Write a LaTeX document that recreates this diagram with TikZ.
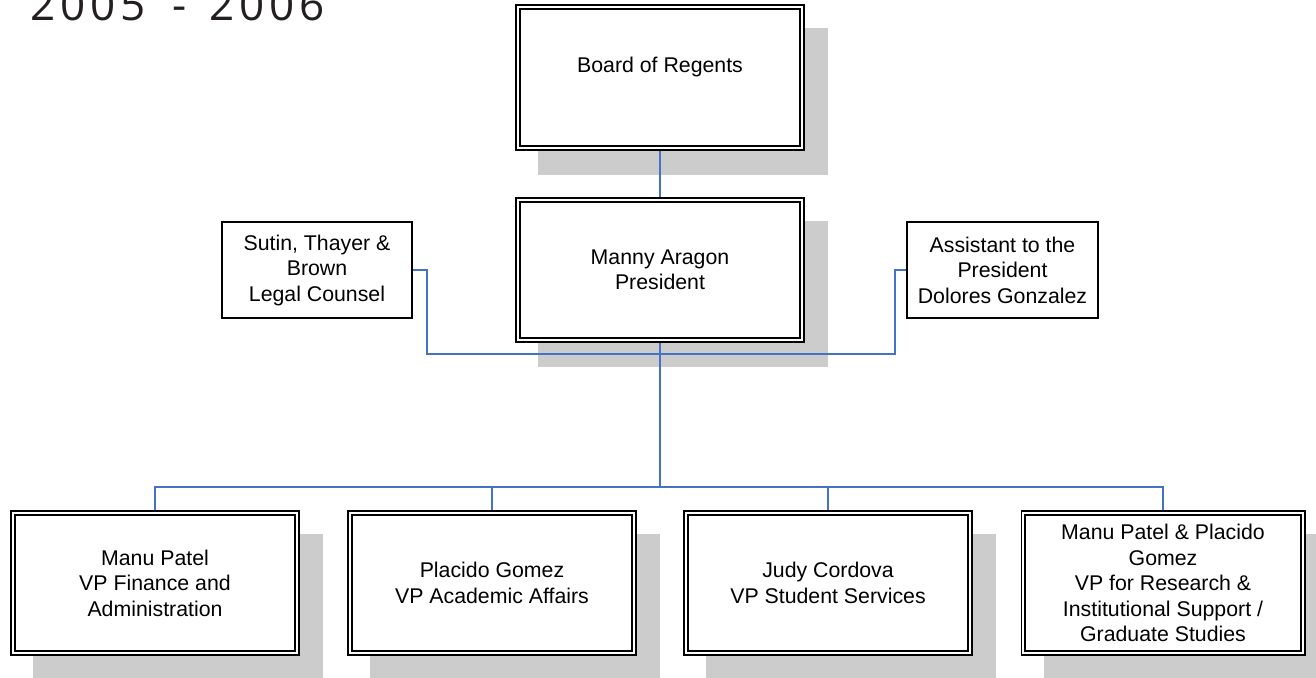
\documentclass[tikz,border=0pt]{standalone}
\usepackage{fontspec}
\setmainfont{Liberation Sans}
\newfontfamily\titlefont[LetterSpace=11]{Open Sans}
\usetikzlibrary{backgrounds,calc}
\definecolor{shadowgray}{HTML}{CCCCCC}
\definecolor{linkblue}{HTML}{4472C4}
\definecolor{titlegray}{HTML}{231F20}
\tikzset{
  boxtext/.style={align=center, inner sep=0pt, font=\fontsize{21.3bp}{25.5bp}\selectfont},
  dbox/.style={boxtext, draw=black, fill=white, double=white, line width=1.8bp,
    double distance=2bp, outer sep=2.8bp, minimum width=284.4bp, minimum height=140.4bp},
  sbox/.style={boxtext, draw=black, fill=white, line width=1.6bp, outer sep=0.8bp,
    minimum width=190.4bp, minimum height=96.4bp},
  conn/.style={draw=linkblue, line width=1.8bp},
  boxshadow/.style={fill=shadowgray},
}
\begin{document}
\begin{tikzpicture}[x=1bp, y=-1bp]
\useasboundingbox (0,0) rectangle (1316,677);

\node[anchor=base west, inner sep=0pt, text=titlegray,
  font=\titlefont\fontsize{44bp}{44bp}\selectfont] (title) at (30,21) {2005 \hspace{11bp}- \hspace{6bp}2006};

\node[dbox] (board) at (660,77.5) {Board of Regents\\\mbox{}};
\node[dbox] (pres) at (660,270) {Manny Aragon\\President};
\node[sbox] (legal) at (317,270) {Sutin, Thayer \&\\Brown\\Legal Counsel};
\node[sbox, minimum width=191.4bp] (assist) at (1002.5,270) {Assistant to the\\President\\Dolores Gonzalez};

\node[dbox] (vp1) at (155,583) {Manu Patel\\VP Finance and\\Administration};
\node[dbox] (vp2) at (492,583) {Placido Gomez\\VP Academic Affairs};
\node[dbox] (vp3) at (828,583) {Judy Cordova\\VP Student Services};
\node[dbox, minimum width=279.4bp] (vp4) at (1163,583) {Manu Patel \& Placido\\Gomez\\VP for Research \&\\Institutional Support /\\Graduate Studies};

\begin{pgfonlayer}{background}
  \foreach \n in {board,pres,vp1,vp2,vp3,vp4}
    \fill[boxshadow] ($(\n.north west)+(23,24)$) rectangle ($(\n.south east)+(23,24)$);
\end{pgfonlayer}

\coordinate (bus) at (660,487);
\coordinate (ljog) at (427,354);
\coordinate (rjog) at (895,354);

\draw[conn] (board.south) -- (pres.north);
\draw[conn] (pres.south) -- (bus);
\draw[conn] (vp1.north) |- (bus) -| (vp4.north);
\draw[conn] (vp2.north) -- (vp2.north |- bus);
\draw[conn] (vp3.north) -- (vp3.north |- bus);
\draw[conn] (legal.east) -| (ljog) -- (rjog) |- (assist.west);
\end{tikzpicture}
\end{document}
